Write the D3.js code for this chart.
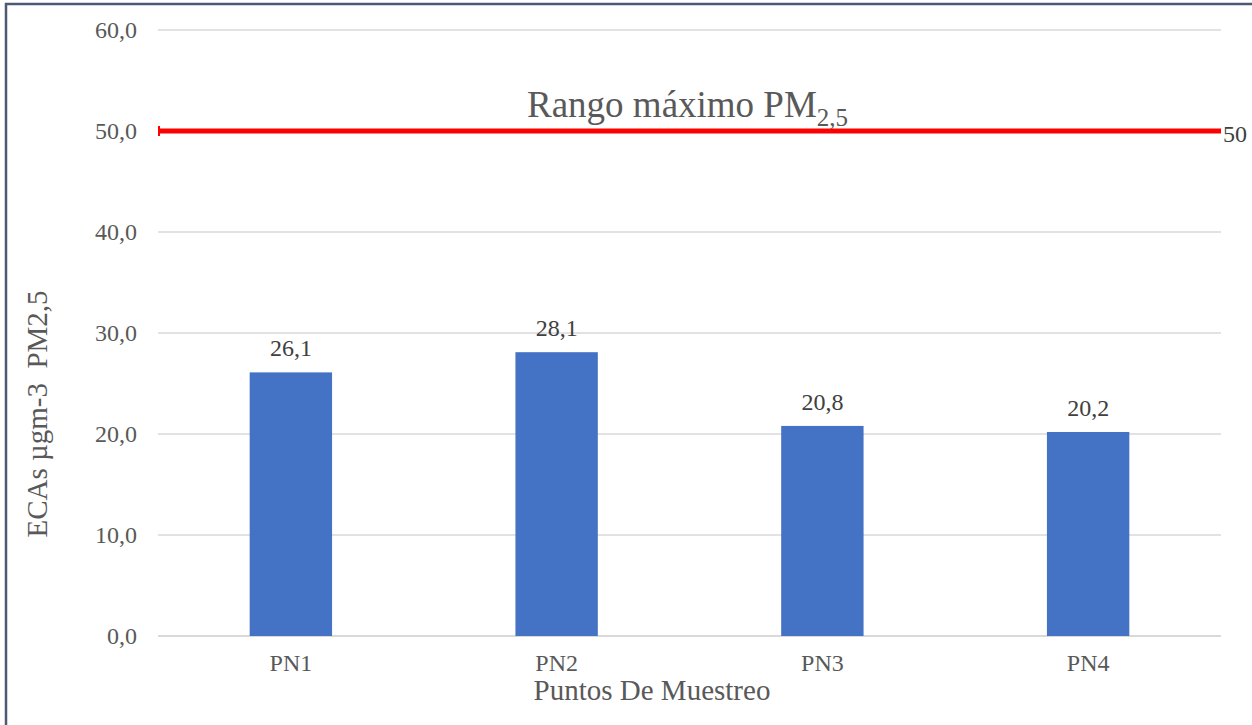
<!DOCTYPE html>
<html><head><meta charset="utf-8">
<script src="https://cdn.jsdelivr.net/npm/d3@7"></script>
<style>body{margin:0;background:#fff;} svg text{font-family:"Liberation Serif","Tinos","Noto Serif","DejaVu Serif",serif !important;}</style>
</head><body>
<script>
const categories = ["PN1","PN2","PN3","PN4"];
const values = [26.1, 28.1, 20.8, 20.2];
const yTicks = [0,10,20,30,40,50,60];
const limitValue = 50;
const titleText = "Rango máximo PM";
const titleSub = "2,5";
const yLabel = "ECAs µgm-3  PM2,5";
const xLabel = "Puntos De Muestreo";

const W = 1252, H = 725;
const m = {left:158, right:1221, top:30, bottom:636};
const svg = d3.select("body").append("svg").attr("width",W).attr("height",H);
svg.append("rect").attr("width",W).attr("height",H).attr("fill","#fff");
svg.append("path").attr("d",`M6,${H} L6,4 L${W},4`).attr("fill","none").attr("stroke","#4b5b75").attr("stroke-width",2.5);

const x = d3.scaleBand().domain(categories).range([m.left,m.right]).paddingInner(0.69).paddingOuter(0.345);
const y = d3.scaleLinear().domain([0,60]).range([m.bottom,m.top]);
const fmt = d => d3.format(".1f")(d).replace(".",",");

svg.append("g").selectAll("line").data(yTicks).join("line")
  .attr("x1",m.left).attr("x2",m.right).attr("y1",d=>y(d)).attr("y2",d=>y(d))
  .attr("stroke","#d9d9d9").attr("stroke-width",d=>d===0?2:1.3);

const yAxis = svg.append("g").attr("transform",`translate(${m.left},0)`)
  .call(d3.axisLeft(y).tickValues(yTicks).tickFormat(fmt).tickSize(0).tickPadding(21));
yAxis.select(".domain").remove();
yAxis.selectAll("text").attr("font-size",24).attr("fill","#595959");

const xAxis = svg.append("g").attr("transform",`translate(0,${m.bottom})`)
  .call(d3.axisBottom(x).tickSize(0).tickPadding(18));
xAxis.select(".domain").remove();
xAxis.selectAll("text").attr("font-size",24).attr("fill","#595959");

svg.append("g").selectAll("rect").data(values).join("rect")
  .attr("x",(d,i)=>x(categories[i])).attr("width",x.bandwidth())
  .attr("y",d=>y(d)).attr("height",d=>y(0)-y(d)).attr("fill","#4472C4");

svg.append("g").selectAll("text").data(values).join("text")
  .attr("x",(d,i)=>x(categories[i])+x.bandwidth()/2).attr("y",d=>y(d)-16)
  .attr("text-anchor","middle").attr("font-size",24).attr("fill","#404040").text(fmt);

svg.append("line").attr("x1",m.left).attr("x2",m.right).attr("y1",y(limitValue)).attr("y2",y(limitValue))
  .attr("stroke","#ff0000").attr("stroke-width",5);
svg.append("line").attr("x1",m.left+1).attr("x2",m.left+1).attr("y1",y(limitValue)-5).attr("y2",y(limitValue)+5)
  .attr("stroke","#ff0000").attr("stroke-width",2);
svg.append("text").attr("x",m.right+2).attr("y",y(limitValue)+11).attr("font-size",24).attr("fill","#404040").text(limitValue);

const t = svg.append("text").attr("x",527).attr("y",117).attr("font-size",37).attr("fill","#595959");
t.append("tspan").text(titleText);
t.append("tspan").attr("font-size",25).attr("dy",9).text(titleSub);

svg.append("text").attr("transform",`translate(47,${414}) rotate(-90)`).attr("text-anchor","middle")
  .attr("font-size",29).attr("fill","#595959").style("white-space","pre").text(yLabel);
svg.append("text").attr("x",652).attr("y",700).attr("text-anchor","middle").attr("font-size",29).attr("fill","#595959").text(xLabel);
</script>
</body></html>
